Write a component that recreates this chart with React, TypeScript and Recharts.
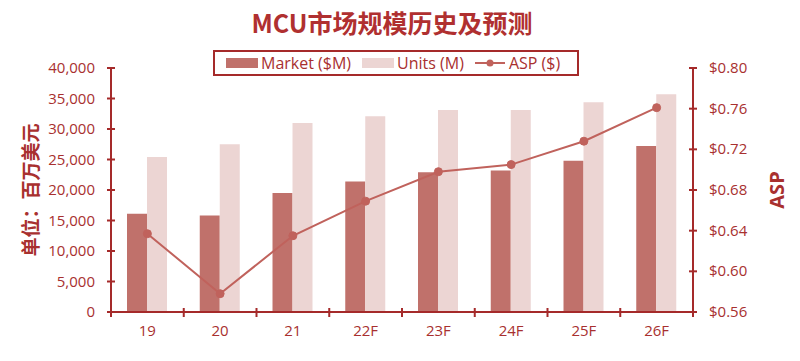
import { ComposedChart, Bar, Line, XAxis, YAxis } from 'recharts'

const years = ['19', '20', '21', '22F', '23F', '24F', '25F', '26F']
const market = [16100, 15800, 19500, 21400, 22900, 23200, 24800, 27200]
const units = [25400, 27500, 31000, 32100, 33100, 33100, 34400, 35700]
const asp = [0.637, 0.578, 0.635, 0.669, 0.698, 0.705, 0.728, 0.761]
const leftTicks = [0, 5000, 10000, 15000, 20000, 25000, 30000, 35000, 40000]
const rightTicks = [0.56, 0.6, 0.64, 0.68, 0.72, 0.76, 0.8]

const data = years.map((y, i) => ({ year: y, market: market[i], units: units[i], asp: asp[i] }))

const AXIS = '#a52a2a'
const TEXT = '#a8302f'
const MARKET = '#c0716b'
const UNITS = '#ecd5d3'
const LINE = '#c0625c'
const FONT = '"Open Sans", "Noto Sans", sans-serif'
const CJK = '"Noto Sans CJK SC", sans-serif'
const HALF_BAND = 582 / 8 / 2

const LeftTick = ({ x, y, payload }: any) => (
  <g>
    <line x1={x - 4} x2={x + 4} y1={y} y2={y} stroke={AXIS} strokeWidth={2} />
    <text x={x - 16} y={y} dy={5} textAnchor="end" fill={TEXT} fontSize={15} fontFamily={FONT}>
      {Number(payload.value).toLocaleString('en-US')}
    </text>
  </g>
)

const RightTick = ({ x, y, payload }: any) => (
  <g>
    <line x1={x - 4} x2={x + 4} y1={y} y2={y} stroke={AXIS} strokeWidth={2} />
    <text x={x + 16} y={y} dy={5} textAnchor="start" fill={TEXT} fontSize={15} fontFamily={FONT}>
      {`$${Number(payload.value).toFixed(2)}`}
    </text>
  </g>
)

const BottomTick = ({ x, y, payload, index }: any) => (
  <g>
    <line x1={x - HALF_BAND} x2={x - HALF_BAND} y1={y - 4} y2={y + 5} stroke={AXIS} strokeWidth={2} />
    {index === years.length - 1 && (
      <line x1={x + HALF_BAND} x2={x + HALF_BAND} y1={y - 4} y2={y + 5} stroke={AXIS} strokeWidth={2} />
    )}
    <text x={x} y={y} dy={24} textAnchor="middle" fill={TEXT} fontSize={15} fontFamily={FONT}>
      {payload.value}
    </text>
  </g>
)

export default function App() {
  return (
    <div style={{ position: 'absolute', left: 0, top: 0, width: 800, height: 361, background: '#fff' }}>
      {/* Title */}
      <div
        style={{
          position: 'absolute', left: 0, width: 784, top: 6, textAlign: 'center',
          fontFamily: CJK, fontWeight: 'bold', fontSize: 25, color: '#b03030', lineHeight: '32px',
        }}
      >
        MCU市场规模历史及预测
      </div>

      {/* Legend */}
      <div
        style={{
          position: 'absolute', left: 213, top: 50, width: 366, height: 26, border: `2px solid ${AXIS}`,
          boxSizing: 'border-box', display: 'flex', alignItems: 'center', fontFamily: FONT, fontSize: 16, color: TEXT,
        }}
      >
        <span style={{ width: 32, height: 10, background: MARKET, marginLeft: 11, marginRight: 3 }} />
        <span>Market ($M)</span>
        <span style={{ width: 32, height: 10, background: UNITS, marginLeft: 11, marginRight: 3 }} />
        <span>Units (M)</span>
        <svg width={30} height={12} style={{ marginLeft: 11, marginRight: 4 }}>
          <line x1={0} x2={30} y1={6} y2={6} stroke={LINE} strokeWidth={2} />
          <circle cx={15} cy={6} r={3.5} fill={LINE} />
        </svg>
        <span>ASP ($)</span>
      </div>

      <div style={{ position: 'absolute', left: 0, top: 0 }}>
        <ComposedChart
          width={800}
          height={361}
          data={data}
          margin={{ top: 68, right: 7, bottom: 19, left: 11 }}
          barCategoryGap="22%"
          barGap={0}
        >
          <XAxis
            dataKey="year"
            stroke={AXIS}
            strokeWidth={2}
            tickLine={false}
            tickSize={0}
            tickMargin={0}
            height={30}
            interval={0}
            tick={<BottomTick />}
          />
          <YAxis
            yAxisId="left"
            orientation="left"
            domain={[0, 40000]}
            ticks={leftTicks}
            width={100}
            stroke={AXIS}
            strokeWidth={2}
            tickLine={false}
            tickSize={0}
            tickMargin={0}
            interval={0}
            tick={<LeftTick />}
            label={{
              content: ({ viewBox }: any) => {
                const cx = viewBox.x + 18
                const cy = viewBox.y + viewBox.height / 2
                return (
                  <text x={cx} y={cy} transform={`rotate(-90, ${cx}, ${cy})`} textAnchor="middle" dominantBaseline="central"
                    fill={TEXT} fontSize={19} fontWeight="bold" fontFamily={CJK}>
                    单位：百万美元
                  </text>
                )
              },
            }}
          />
          <YAxis
            yAxisId="right"
            orientation="right"
            domain={[0.56, 0.8]}
            ticks={rightTicks}
            width={100}
            stroke={AXIS}
            strokeWidth={2}
            tickLine={false}
            tickSize={0}
            tickMargin={0}
            interval={0}
            tick={<RightTick />}
            label={{
              content: ({ viewBox }: any) => {
                const cx = viewBox.x + viewBox.width - 17
                const cy = viewBox.y + viewBox.height / 2
                return (
                  <text x={cx} y={cy} transform={`rotate(-90, ${cx}, ${cy})`} textAnchor="middle" dominantBaseline="central"
                    fill={TEXT} fontSize={20} fontWeight="bold" fontFamily={FONT}>
                    ASP
                  </text>
                )
              },
            }}
          />
          <Bar yAxisId="left" dataKey="market" fill={MARKET} isAnimationActive={false} />
          <Bar yAxisId="left" dataKey="units" fill={UNITS} isAnimationActive={false} />
          <Line
            yAxisId="right"
            dataKey="asp"
            type="linear"
            stroke={LINE}
            strokeWidth={2}
            dot={{ r: 4, fill: LINE, stroke: LINE, strokeWidth: 1 }}
            isAnimationActive={false}
          />
        </ComposedChart>
      </div>
    </div>
  )
}
